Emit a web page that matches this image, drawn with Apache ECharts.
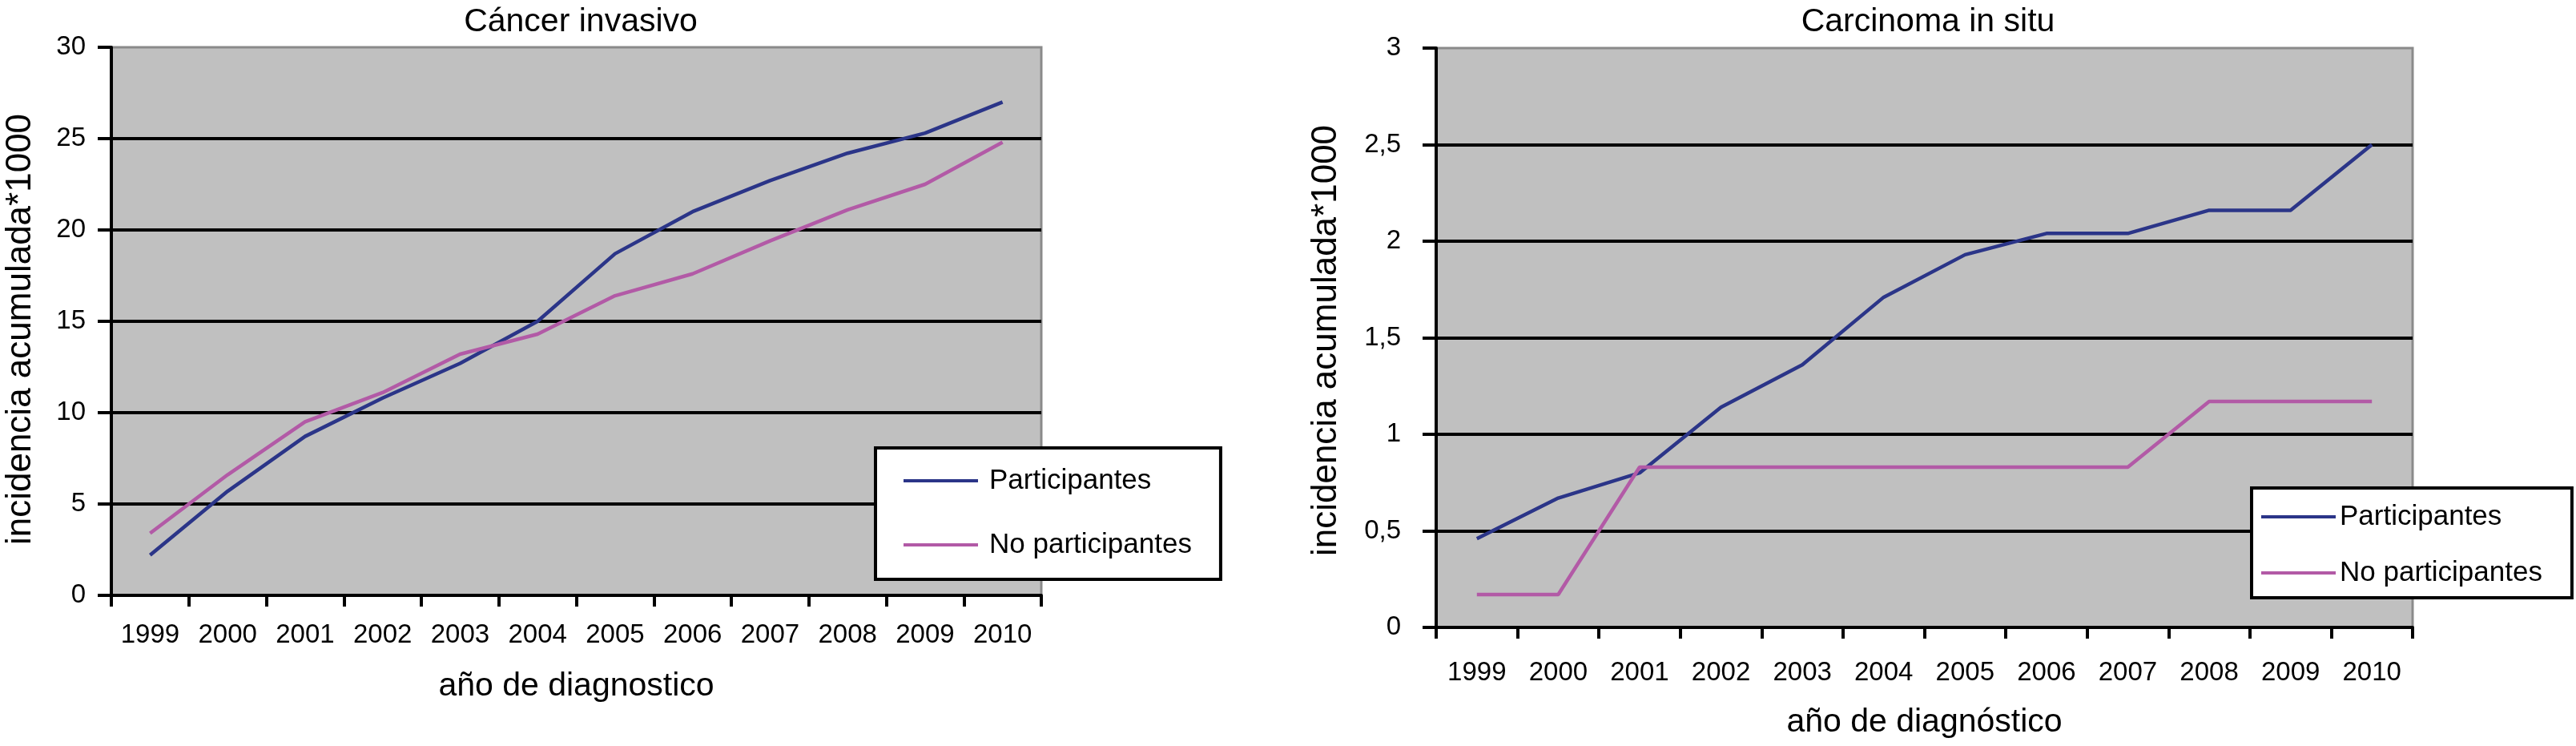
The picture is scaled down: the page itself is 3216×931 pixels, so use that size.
<!DOCTYPE html>
<html>
<head>
<meta charset="utf-8">
<script src="https://cdn.jsdelivr.net/npm/echarts@6/dist/echarts.min.js"></script>
<style>
html,body{margin:0;padding:0;background:#fff;}
#c{width:3216px;height:931px;}
</style>
</head>
<body>
<div id="c"></div>
<script>
const years = ['1999','2000','2001','2002','2003','2004','2005','2006','2007','2008','2009','2010'];
const seriesNames = ['Participantes', 'No participantes'];
const invasivoPart = [2.2, 5.7, 8.7, 10.8, 12.7, 15.0, 18.7, 21.0, 22.7, 24.2, 25.3, 27.0];
const invasivoNoPart = [3.4, 6.6, 9.5, 11.1, 13.2, 14.3, 16.4, 17.6, 19.4, 21.1, 22.5, 24.8];
const insituPart = [0.46, 0.67, 0.80, 1.14, 1.36, 1.71, 1.93, 2.04, 2.04, 2.16, 2.16, 2.5];
const insituNoPart = [0.17, 0.17, 0.83, 0.83, 0.83, 0.83, 0.83, 0.83, 0.83, 1.17, 1.17, 1.17];
const titles = ['Cáncer invasivo', 'Carcinoma in situ'];
const xNames = ['año de diagnostico', 'año de diagnóstico'];
const yName = 'incidencia acumulada*1000';

const FONT = '"Liberation Sans", Arial, Helvetica, sans-serif';
const BLUE = '#2b3588';
const PURPLE = '#b25aa6';

const chart = echarts.init(document.getElementById('c'), null, {renderer: 'canvas'});

function xAxis(gi, margin, nameGap) {
  return {
    type: 'category', gridIndex: gi, data: years, boundaryGap: true,
    axisLine: {show: true, lineStyle: {color: '#000', width: 4}},
    axisTick: {show: true, length: 14, lineStyle: {color: '#000', width: 4}},
    axisLabel: {color: '#000', fontSize: 33, fontFamily: FONT, margin: margin, interval: 0},
    splitLine: {show: false},
    name: xNames[gi], nameLocation: 'middle', nameGap: nameGap,
    nameTextStyle: {color: '#000', fontSize: 41, fontFamily: FONT}
  };
}
function yAxis(gi, max, interval, margin, nameGap, fmt, namePad) {
  return {
    type: 'value', gridIndex: gi, min: 0, max: max, interval: interval,
    axisLine: {show: true, lineStyle: {color: '#000', width: 4}},
    axisTick: {show: true, length: 17, lineStyle: {color: '#000', width: 4}},
    axisLabel: {color: '#000', fontSize: 33, fontFamily: FONT, margin: margin, formatter: fmt},
    splitLine: {show: true, showMinLine: false, showMaxLine: false, lineStyle: {color: '#000', width: 4}},
    name: yName, nameLocation: 'middle', nameRotate: 90, nameGap: nameGap,
    nameTextStyle: {color: '#000', fontSize: 44, fontFamily: FONT, padding: namePad}
  };
}
function legend(left, top, pad, gap, textPad) {
  return {
    orient: 'vertical', left: left, top: top,
    data: seriesNames,
    icon: 'rect', itemWidth: 93, itemHeight: 4, itemGap: gap,
    padding: pad,
    backgroundColor: '#fff', borderColor: '#000', borderWidth: 4, borderRadius: 0,
    textStyle: {color: '#000', fontSize: 35, fontFamily: FONT, lineHeight: 40, padding: [0, 0, 0, textPad]},
    selectedMode: false
  };
}
function line(name, gi, data, color) {
  return {
    type: 'line', name: name, xAxisIndex: gi, yAxisIndex: gi, data: data,
    symbol: 'none', smooth: false, animation: false,
    lineStyle: {color: color, width: 4.5}, itemStyle: {color: color}
  };
}

chart.setOption({
  backgroundColor: '#fff',
  animation: false,
  title: [
    {text: titles[0], left: 720, top: 2, textAlign: 'center', textStyle: {color: '#000', fontSize: 41, fontWeight: 'normal', fontFamily: FONT}},
    {text: titles[1], left: 2402, top: 2, textAlign: 'center', textStyle: {color: '#000', fontSize: 41, fontWeight: 'normal', fontFamily: FONT}}
  ],
  grid: [
    {left: 139, top: 59, width: 1161, height: 684, show: true, backgroundColor: '#c0c0c0', borderColor: '#8a8a8a', borderWidth: 3, containLabel: false},
    {left: 1793, top: 60, width: 1219, height: 723, show: true, backgroundColor: '#c0c0c0', borderColor: '#8a8a8a', borderWidth: 3, containLabel: false}
  ],
  xAxis: [xAxis(0, 33, 93), xAxis(1, 40, 98)],
  yAxis: [
    yAxis(0, 30, 5, 32, 91, v => String(v), [0, 20, 0, 0]),
    yAxis(1, 3, 0.5, 44, 115, v => String(v).replace('.', ','), [0, 7, 0, 0])
  ],
  legend: [
    legend(1093, 559, [21, 36, 23, 35], 40, 9),
    legend(2811, 609, [16, 37, 11, 12], 30, 0)
  ],
  series: [
    line(seriesNames[0], 0, invasivoPart, BLUE),
    line(seriesNames[1], 0, invasivoNoPart, PURPLE),
    line(seriesNames[0], 1, insituPart, BLUE),
    line(seriesNames[1], 1, insituNoPart, PURPLE)
  ]
});
</script>
</body>
</html>
